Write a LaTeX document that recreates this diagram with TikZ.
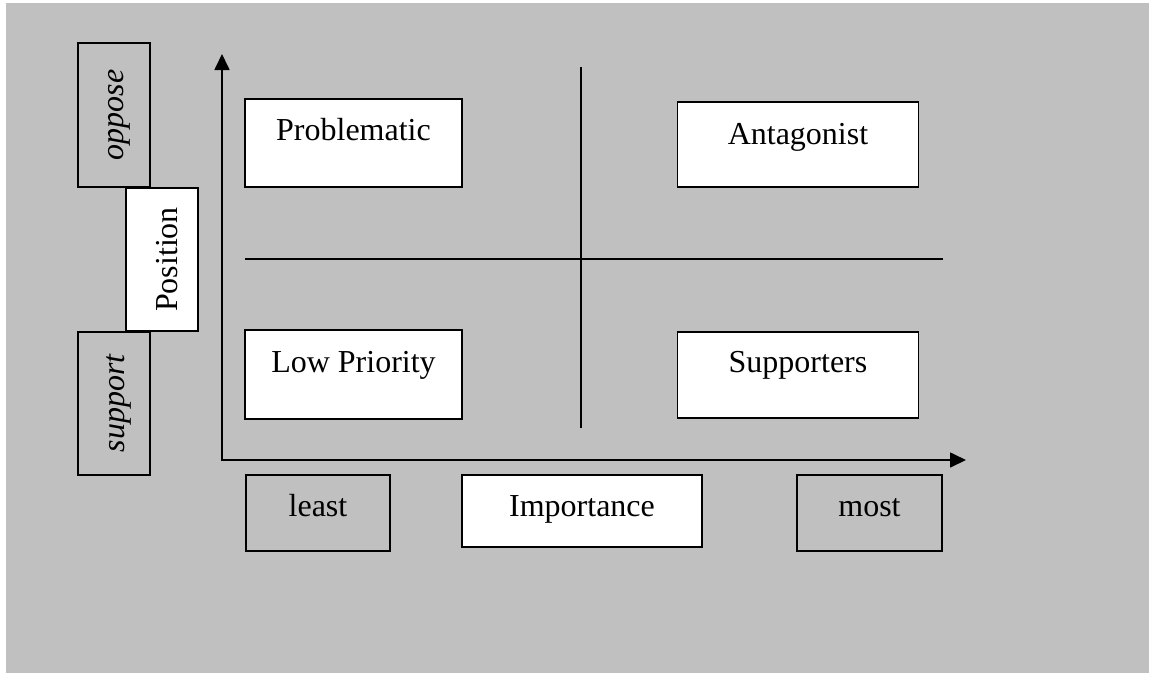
\documentclass[tikz,border=0pt]{standalone}
\usepackage{fontspec}
\setmainfont{Liberation Serif}
\usetikzlibrary{arrows.meta}
\definecolor{bggray}{RGB}{192,192,192}
\tikzset{
  box/.style={draw=black, line width=1.6pt, inner sep=0pt, anchor=base, font=\fontsize{32}{36}\selectfont},
  whitebox/.style={box, fill=white},
  graybox/.style={box, fill=bggray},
  axis/.style={line width=1.7pt, -{Triangle[length=16pt,width=15pt]}},
  divider/.style={line width=1.7pt}
}
\begin{document}
\begin{tikzpicture}[x=1pt,y=-1pt]
\useasboundingbox (0,0) rectangle (1149,673);
\fill[bggray] (6,3) rectangle (1149,673);
% side labels (rotated)
\node[graybox, rotate=90, minimum width=144pt, text height=45pt, text depth=27pt] (oppose) at (123,115) {\itshape oppose};
\node[whitebox, rotate=90, minimum width=143pt, text height=51pt, text depth=21pt] (position) at (177,259.5) {Position};
\node[graybox, rotate=90, minimum width=143pt, text height=46pt, text depth=26pt] (support) at (124,403.5) {\itshape support};
% quadrant boxes
\node[whitebox, minimum width=217pt, text height=41pt, text depth=47pt] (prob) at (353.5,140) {Problematic};
\node[whitebox, minimum width=241pt, text height=42pt, text depth=43pt] (antag) at (798,144) {Antagonist};
\node[whitebox, minimum width=217pt, text height=42pt, text depth=47pt] (lowp) at (353.5,372) {Low Priority};
\node[whitebox, minimum width=241pt, text height=40pt, text depth=46pt] (supp) at (798,372) {Supporters};
% bottom labels
\node[graybox, minimum width=144pt, text height=41pt, text depth=35pt] (least) at (318,516) {least};
\node[whitebox, minimum width=240pt, text height=41pt, text depth=31pt] (imp) at (582,516) {Importance};
\node[graybox, minimum width=145pt, text height=41pt, text depth=35pt] (most) at (869.5,516) {most};
% axes
\coordinate (origin) at (222,461);
\coordinate (ytip) at (222,54);
\coordinate (xorigin) at (221,460);
\coordinate (xtip) at (966,460);
\draw[axis] (origin) -- (ytip);
\draw[axis] (xorigin) -- (xtip);
% quadrant dividers
\coordinate (vtop) at (581,67);
\coordinate (vbot) at (581,428);
\coordinate (hleft) at (245,259);
\coordinate (hright) at (943,259);
\draw[divider] (vtop) -- (vbot);
\draw[divider] (hleft) -- (hright);
\end{tikzpicture}
\end{document}
